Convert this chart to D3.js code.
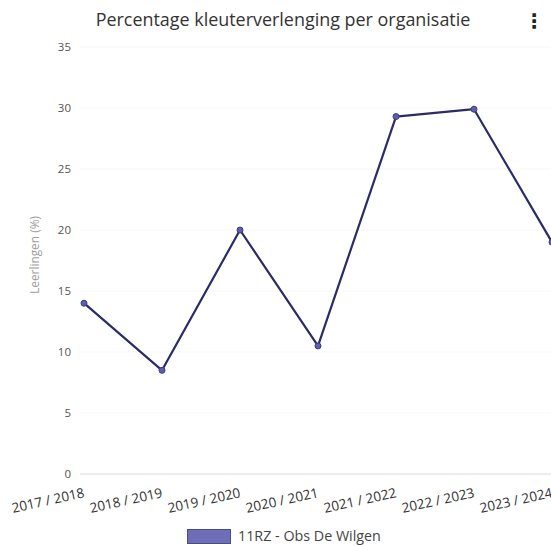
<!DOCTYPE html>
<html>
<head>
<meta charset="utf-8">
<script src="https://cdn.jsdelivr.net/npm/d3@7/dist/d3.min.js"></script>
<style>
  html, body { margin: 0; padding: 0; background: #fff; overflow: hidden; }
  svg { display: block; font-family: "Open Sans", "DejaVu Sans", sans-serif; }
</style>
</head>
<body>
<svg id="chart" width="551" height="546"></svg>
<script>
const categories = ["2017 / 2018", "2018 / 2019", "2019 / 2020", "2020 / 2021", "2021 / 2022", "2022 / 2023", "2023 / 2024"];
const values = [14.0, 8.5, 20.0, 10.5, 29.3, 29.9, 19.0];
const yTicks = [0, 5, 10, 15, 20, 25, 30, 35];
const seriesName = "11RZ - Obs De Wilgen";
const title = "Percentage kleuterverlenging per organisatie";
const yTitle = "Leerlingen (%)";

const svg = d3.select("#chart");

const x = d3.scalePoint().domain(categories).range([84, 552]);
const y = d3.scaleLinear().domain([0, 35]).range([474, 47]);

function fitText(sel, size, target) {
  sel.attr("font-size", size);
  const w = sel.node().getComputedTextLength();
  sel.attr("font-size", size * target / w);
}

// title
const t = svg.append("text")
  .attr("x", 283).attr("y", 26)
  .attr("text-anchor", "middle")
  .attr("fill", "#333")
  .text(title);
fitText(t, 15, 375);

// kebab menu
svg.append("text")
  .attr("x", 534).attr("y", 28)
  .attr("text-anchor", "middle")
  .attr("font-size", 20)
  .attr("font-weight", "bold")
  .attr("fill", "#222")
  .text("⋮");

// grid
svg.append("g").selectAll("line").data(yTicks).join("line")
  .attr("x1", 80).attr("x2", 551)
  .attr("y1", d => y(d)).attr("y2", d => y(d))
  .attr("stroke", d => d === 0 ? "#dcdcdc" : "#f7f7f7")
  .attr("stroke-width", 1);

// y axis
const yAxis = svg.append("g")
  .attr("transform", "translate(71,0)")
  .call(d3.axisLeft(y).tickValues(yTicks).tickSize(0).tickPadding(0));
yAxis.select(".domain").remove();
yAxis.selectAll("text").attr("font-size", 11.5).attr("fill", "#555")
  .attr("font-family", "Open Sans, sans-serif");

const yt = svg.append("text")
  .attr("transform", "translate(39,255) rotate(-90)")
  .attr("text-anchor", "middle")
  .attr("fill", "#a0a0a0")
  .text(yTitle);
fitText(yt, 11, 78);

// x axis labels
const xAxis = svg.append("g")
  .call(d3.axisBottom(x).tickSize(0));
xAxis.select(".domain").remove();
xAxis.selectAll(".tick").attr("transform", d => `translate(${x(d) + 1},497)`);
xAxis.selectAll(".tick text")
  .attr("y", 0).attr("dy", 0)
  .attr("text-anchor", "end")
  .attr("transform", "rotate(-12.5)")
  .attr("font-size", 13.5)
  .attr("fill", "#333")
  .attr("font-family", "Open Sans, sans-serif");

// line
const line = d3.line().x((d, i) => x(categories[i])).y(d => y(d));
svg.append("path")
  .datum(values)
  .attr("d", line)
  .attr("fill", "none")
  .attr("stroke", "#2b2b66")
  .attr("stroke-width", 2.2)
  .attr("stroke-linejoin", "round");

svg.append("g").selectAll("circle").data(values).join("circle")
  .attr("cx", (d, i) => x(categories[i]))
  .attr("cy", d => y(d))
  .attr("r", 3)
  .attr("fill", "#5e5eaa")
  .attr("stroke", "#3c3c80")
  .attr("stroke-width", 1);

// legend
svg.append("rect")
  .attr("x", 187.5).attr("y", 529.5)
  .attr("width", 43).attr("height", 14)
  .attr("fill", "#6e6eb8")
  .attr("stroke", "#4a4a90")
  .attr("stroke-width", 1);
const lt = svg.append("text")
  .attr("x", 238).attr("y", 541)
  .attr("fill", "#444")
  .text(seriesName);
fitText(lt, 12, 143);
</script>
</body>
</html>
